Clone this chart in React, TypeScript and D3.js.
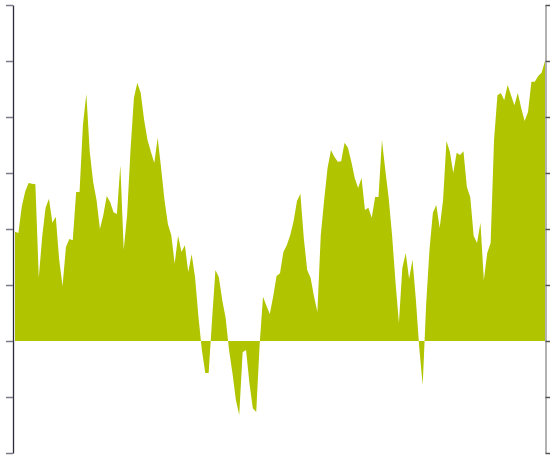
import { useEffect, useRef } from "react";
import { area, axisLeft, axisRight, curveLinear, scaleLinear, select } from "d3";

// values, one per period
const values = [
  19.5, 19.3, 24.0, 26.7, 28.2, 28.1, 28.0, 11.3, 18.6, 23.8,
  25.4, 21.1, 22.2, 14.5, 9.8, 16.8, 18.2, 18.0, 26.6, 26.6,
  38.6, 44.1, 33.8, 28.4, 25.2, 20.0, 22.5, 25.9, 24.8, 23.0,
  22.7, 31.4, 16.3, 22.5, 34.1, 43.4, 46.1, 44.3, 39.5, 35.9,
  33.8, 31.8, 36.3, 30.9, 25.2, 20.9, 18.9, 13.8, 18.8, 15.9,
  17.1, 12.3, 15.5, 11.4, 4.3, -1.6, -5.7, -5.7, 3.8, 12.7,
  11.4, 7.3, 4.1, -1.6, -5.7, -10.5, -13.2, -2.0, -1.6, -7.5,
  -12.0, -12.7, -0.7, 7.9, 6.3, 4.8, 8.0, 11.6, 12.1, 15.9,
  17.1, 18.9, 21.4, 25.0, 26.3, 18.4, 12.7, 11.3, 8.0, 5.2,
  18.9, 25.2, 30.9, 34.1, 32.9, 32.0, 32.1, 35.4, 34.5, 32.0,
  29.1, 27.3, 29.1, 23.4, 23.8, 22.0, 25.7, 25.7, 35.9, 30.5,
  25.5, 18.8, 10.5, 3.2, 13.0, 15.7, 11.1, 14.5, 7.3, -1.3,
  -7.9, 6.4, 16.3, 22.9, 24.3, 20.2, 25.2, 35.7, 33.8, 30.0,
  33.6, 33.2, 33.9, 27.5, 25.7, 18.8, 17.5, 21.1, 10.9, 15.7,
  17.5, 35.9, 43.9, 44.3, 43.0, 45.7, 43.9, 42.1, 44.3, 41.6,
  39.3, 40.9, 46.3, 46.3, 47.3, 47.9, 50.0,
];

const yDomain = [-20, 60];
const tickValues = [-20, -10, 0, 10, 20, 30, 40, 50, 60];

const width = 550;
const height = 457;

export default function App() {
  const gl = useRef<SVGGElement>(null);
  const gr = useRef<SVGGElement>(null);

  const x = scaleLinear([0, values.length - 1], [15, 545]);
  const y = scaleLinear(yDomain, [453, 5]);

  const path = area<number>()
    .x((_, i) => x(i))
    .y0(y(0))
    .y1((d) => y(d))
    .curve(curveLinear)(values);

  useEffect(() => {
    const l = select(gl.current!);
    l.call(
      axisLeft(y).tickValues(tickValues).tickSize(7).tickSizeOuter(0).tickFormat(() => "") as any
    );
    l.select(".domain").attr("stroke", "#2b2b38").attr("stroke-width", 1.3);
    l.selectAll(".tick line").attr("stroke", "#7a7a88").attr("stroke-width", 1.5);

    const r = select(gr.current!);
    r.call(
      axisRight(y).tickValues(tickValues).tickSize(6).tickSizeOuter(0).tickFormat(() => "") as any
    );
    r.select(".domain").attr("stroke", "#999").attr("stroke-width", 1.5);
    r.selectAll(".tick line").attr("stroke", "#555").attr("stroke-width", 1.5);
  }, []);

  return (
    <svg
      width={width}
      height={height}
      style={{ position: "absolute", left: 0, top: 0, background: "#fff" }}
    >
      <path d={path ?? ""} fill="#b0c400" />
      <g ref={gl} transform="translate(13,0)" />
      <g ref={gr} transform="translate(545.5,0)" />
    </svg>
  );
}
